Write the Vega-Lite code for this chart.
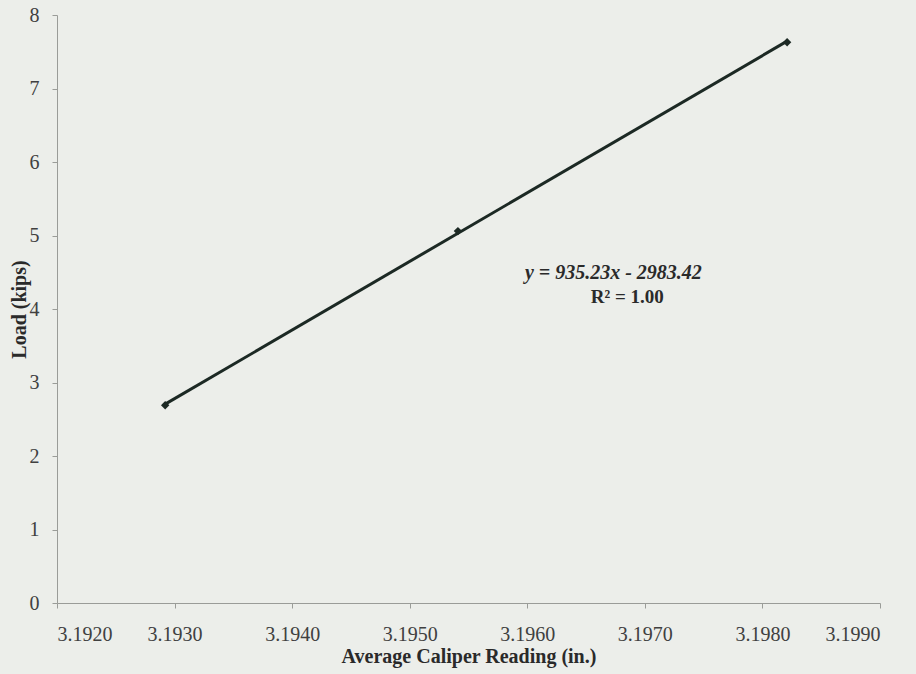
{
  "$schema": "https://vega.github.io/schema/vega-lite/v6.json",
  "autosize": "none",
  "width": 823,
  "height": 588,
  "padding": {"left": 57, "top": 15, "right": 36, "bottom": 71},
  "background": "#eceeea",
  "config": {
    "view": {"stroke": null},
    "font": "Liberation Serif",
    "axis": {
      "grid": false,
      "domainColor": "#9a9c98",
      "tickColor": "#9a9c98",
      "tickSize": 5,
      "labelFont": "Liberation Serif",
      "labelFontSize": 20,
      "labelColor": "#404040",
      "titleFont": "Liberation Serif",
      "titleFontSize": 20,
      "titleFontWeight": "bold",
      "titleColor": "#2a2a2a"
    }
  },
  "datasets": {
    "readings": [
      {"caliper": 3.19292, "load": 2.69},
      {"caliper": 3.19541, "load": 5.06},
      {"caliper": 3.19821, "load": 7.63}
    ],
    "equation": [
      {"caliper": 3.196732, "load": 4.49, "label": "y = 935.23x - 2983.42"}
    ],
    "fit": [
      {"caliper": 3.196851, "load": 4.16, "label": "R² = 1.00"}
    ]
  },
  "layer": [
    {
      "data": {"name": "readings"},
      "transform": [{"regression": "load", "on": "caliper"}],
      "mark": {"type": "line", "color": "#1c2924", "strokeWidth": 3},
      "encoding": {
        "x": {
          "field": "caliper", "type": "quantitative",
          "scale": {"domain": [3.192, 3.199], "zero": false, "nice": false},
          "axis": {"values": [3.192, 3.193, 3.194, 3.195, 3.196, 3.197, 3.198, 3.199], "format": ".4f", "labelPadding": 16, "title": "Average Caliper Reading (in.)", "titlePadding": 2}
        },
        "y": {
          "field": "load", "type": "quantitative",
          "scale": {"domain": [0, 8], "nice": false},
          "axis": {"values": [0, 1, 2, 3, 4, 5, 6, 7, 8], "format": "d", "labelPadding": 13, "title": "Load (kips)", "titlePadding": 0}
        }
      }
    },
    {
      "data": {"name": "readings"},
      "mark": {"type": "point", "shape": "diamond", "filled": true, "size": 70, "color": "#1c2924", "opacity": 1},
      "encoding": {
        "x": {"field": "caliper", "type": "quantitative"},
        "y": {"field": "load", "type": "quantitative"}
      }
    },
    {
      "data": {"name": "equation"},
      "mark": {"type": "text", "fontSize": 20, "fontWeight": "bold", "fontStyle": "italic", "color": "#2a2a2a", "align": "center", "baseline": "middle"},
      "encoding": {
        "x": {"field": "caliper", "type": "quantitative"},
        "y": {"field": "load", "type": "quantitative"},
        "text": {"field": "label"}
      }
    },
    {
      "data": {"name": "fit"},
      "mark": {"type": "text", "fontSize": 19, "fontWeight": "bold", "color": "#2a2a2a", "align": "center", "baseline": "middle"},
      "encoding": {
        "x": {"field": "caliper", "type": "quantitative"},
        "y": {"field": "load", "type": "quantitative"},
        "text": {"field": "label"}
      }
    }
  ]
}
